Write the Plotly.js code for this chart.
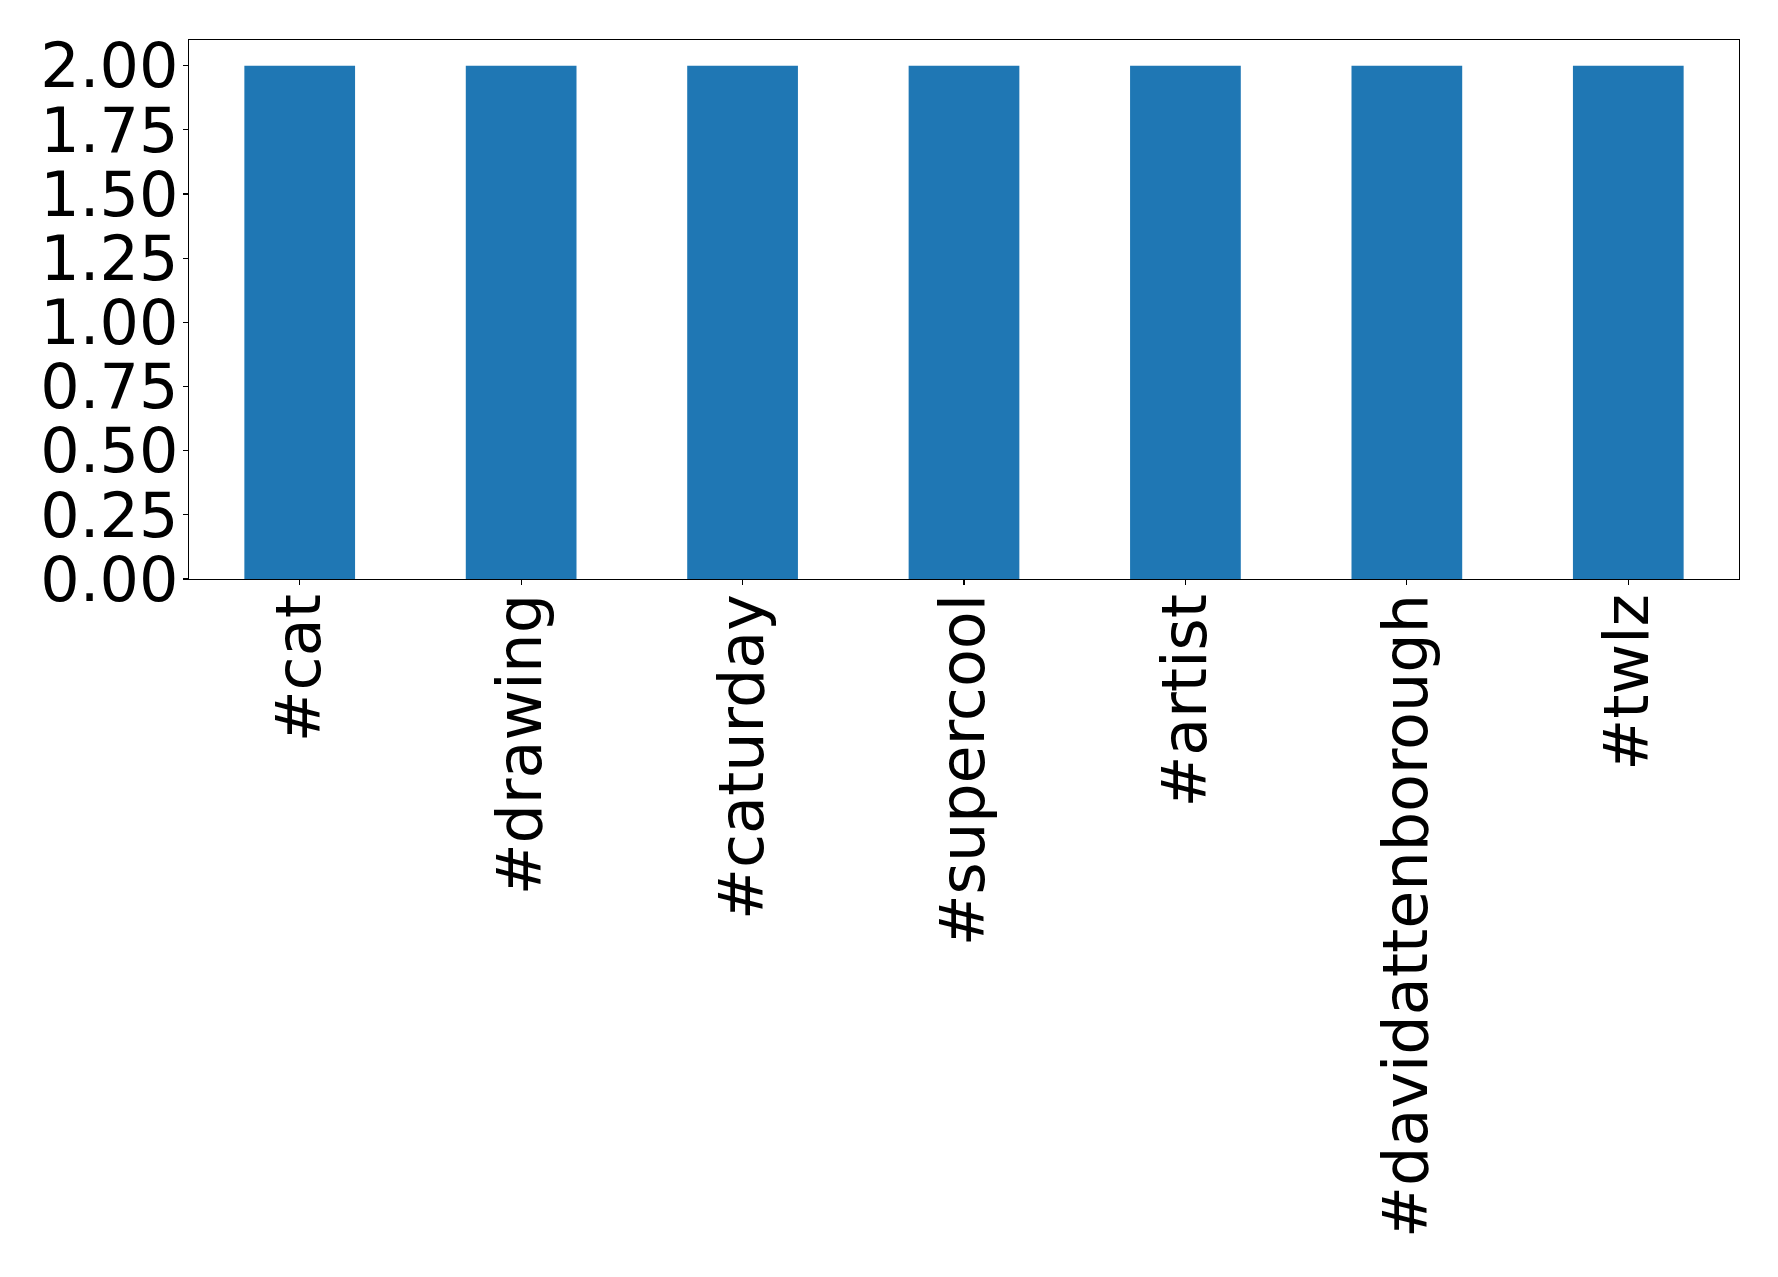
<!DOCTYPE html>
<html>
<head>
<meta charset="utf-8">
<script src="https://cdn.plot.ly/plotly-3.0.1.min.js"></script>
<style>html,body{margin:0;padding:0;background:#fff;}#chart{width:1778px;height:1277px;}</style>
</head>
<body>
<div id="chart"></div>
<script>
const categories = ["#cat", "#drawing", "#caturday", "#supercool", "#artist", "#davidattenborough", "#twlz"];
const counts = [2, 2, 2, 2, 2, 2, 2];
const yTicks = [0, 0.25, 0.5, 0.75, 1.0, 1.25, 1.5, 1.75, 2.0];
const yTickLabels = ["0.00", "0.25", "0.50", "0.75", "1.00", "1.25", "1.50", "1.75", "2.00"];

const trace = {
  type: "bar",
  x: categories,
  y: counts,
  width: 0.5,
  marker: {color: "#1f77b4", line: {width: 0}},
  hoverinfo: "x+y"
};

const layout = {
  width: 1778,
  height: 1277,
  margin: {l: 189, r: 39, t: 40, b: 698, pad: 0},
  paper_bgcolor: "#ffffff",
  plot_bgcolor: "#ffffff",
  showlegend: false,
  font: {family: "DejaVu Sans", size: 62, color: "#000000"},
  bargap: 0.5,
  xaxis: {
    type: "category",
    range: [-0.5, 6.5],
    tickangle: -90,
    ticks: "outside",
    ticklen: 5,
    tickwidth: 1.2,
    tickcolor: "#000",
    showline: true,
    linecolor: "#000",
    linewidth: 1.2,
    mirror: true,
    showgrid: false,
    zeroline: false,
    tickfont: {family: "DejaVu Sans", size: 62, color: "#000"},
    ticklabelstandoff: -16
  },
  yaxis: {
    range: [0, 2.1],
    tickmode: "array",
    tickvals: yTicks,
    ticktext: yTickLabels,
    ticks: "outside",
    ticklen: 5,
    tickwidth: 1.2,
    tickcolor: "#000",
    showline: true,
    linecolor: "#000",
    linewidth: 1.2,
    mirror: true,
    showgrid: false,
    zeroline: false,
    tickfont: {family: "DejaVu Sans", size: 62, color: "#000"},
    ticklabelstandoff: -8
  }
};

Plotly.newPlot("chart", [trace], layout, {displayModeBar: false, staticPlot: true});
</script>
</body>
</html>
